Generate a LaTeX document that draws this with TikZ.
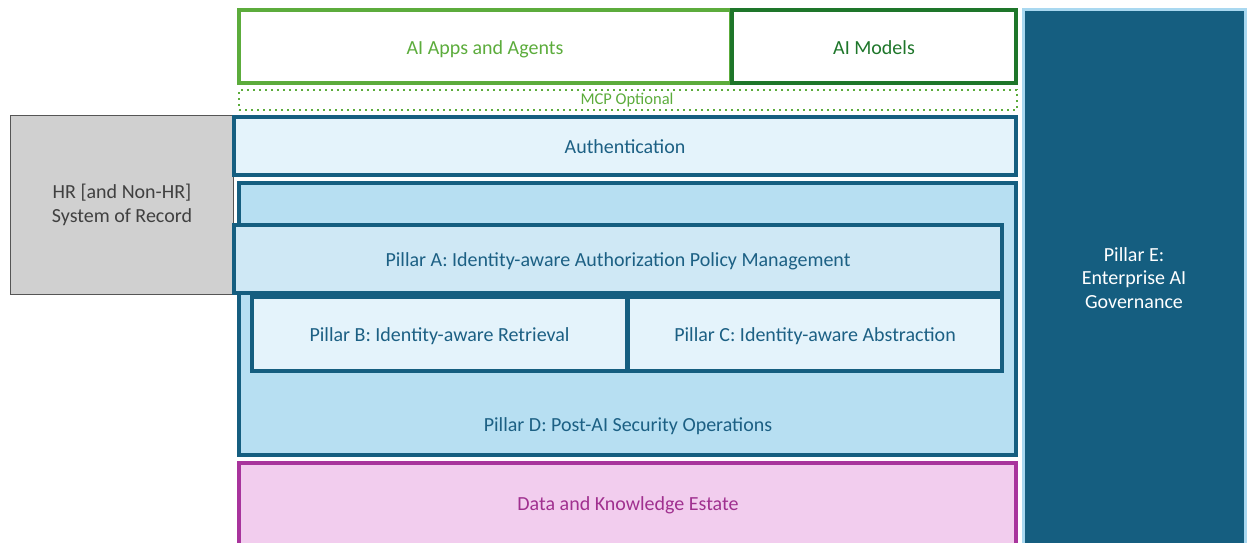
\documentclass[tikz,border=0pt]{standalone}
\usepackage{fontspec}
\setmainfont{Carlito}
\definecolor{appgreen}{RGB}{92,172,60}
\definecolor{modelgreen}{RGB}{30,118,42}
\definecolor{navy}{RGB}{21,94,128}
\definecolor{navytext}{RGB}{28,96,132}
\definecolor{palefill}{RGB}{228,243,251}
\definecolor{midfill}{RGB}{207,232,245}
\definecolor{skyfill}{RGB}{183,223,242}
\definecolor{pinkfill}{RGB}{242,205,238}
\definecolor{magenta}{RGB}{168,52,156}
\definecolor{magtext}{RGB}{160,48,143}
\definecolor{hrfill}{RGB}{208,208,208}
\definecolor{hrline}{RGB}{85,85,85}
\definecolor{hrtext}{RGB}{64,64,64}
\definecolor{govline}{RGB}{169,216,240}
\tikzset{
  box/.style={rectangle, inner sep=0pt, align=center, font=\fontsize{20}{23.5}\selectfont},
  oneline/.style={text height=15.5pt, text depth=0.5pt},
  bluebox/.style={box, oneline, draw=navy, line width=4pt, text=navytext},
}
\begin{document}
\begin{tikzpicture}[x=1pt, y=-1pt]
\useasboundingbox (0,0) rectangle (1248,542);
% system of record on the left
\node[box, draw=hrline, fill=hrfill, line width=1pt, text=hrtext,
  minimum width=223pt, minimum height=179pt] (hr) at (122,205) {HR [and Non-HR]\\System of Record};
% top layer
\node[box, oneline, draw=appgreen, line width=4pt, text=appgreen,
  minimum width=492pt, minimum height=73pt] (apps) at (485,46.5) {AI Apps and Agents};
\node[box, oneline, draw=modelgreen, line width=4pt, text=modelgreen,
  minimum width=284pt, minimum height=73pt] (models) at (874,46.5) {AI Models};
\node[box, draw=appgreen, line width=2.4pt, dash pattern=on 2.4pt off 3.6pt,
  minimum width=778pt, minimum height=20pt] (mcp) at (628,100) {};
\node[text=appgreen, font=\fontsize{16.5}{18}\selectfont, inner sep=0pt] (mcplabel) at (627,100) {MCP Optional};
% authentication
\node[bluebox, fill=palefill, minimum width=782pt, minimum height=58pt] (auth) at (625,146) {Authentication};
% pillar D container
\node[bluebox, fill=skyfill, minimum width=777pt, minimum height=272pt] (pd) at (627.5,319) {};
\node[box, oneline, text=navytext] (pdlabel) at (628,424) {Pillar D: Post-AI Security Operations};
% pillars A, B, C
\node[bluebox, fill=midfill, minimum width=768pt, minimum height=68pt] (pa) at (618,259) {Pillar A: Identity-aware Authorization Policy Management};
\node[bluebox, fill=palefill, minimum width=375pt, minimum height=74pt] (pb) at (439.5,334) {Pillar B: Identity-aware Retrieval};
\node[bluebox, fill=palefill, minimum width=374pt, minimum height=74pt] (pc) at (815,334) {Pillar C: Identity-aware Abstraction};
% data estate
\node[box, draw=magenta, fill=pinkfill, line width=4pt, text=magtext,
  minimum width=777pt, minimum height=84pt] (data) at (627.5,505) {};
\node[box, oneline, text=magtext] (datalabel) at (628,503) {Data and Knowledge Estate};
% governance column
\node[box, draw=govline, fill=navy, line width=3pt, text=white,
  minimum width=222pt, minimum height=540pt] (pe) at (1134.5,279.5) {};
\node[box, text=white] (pelabel) at (1134,278) {Pillar E:\\Enterprise AI\\Governance};
\end{tikzpicture}
\end{document}
